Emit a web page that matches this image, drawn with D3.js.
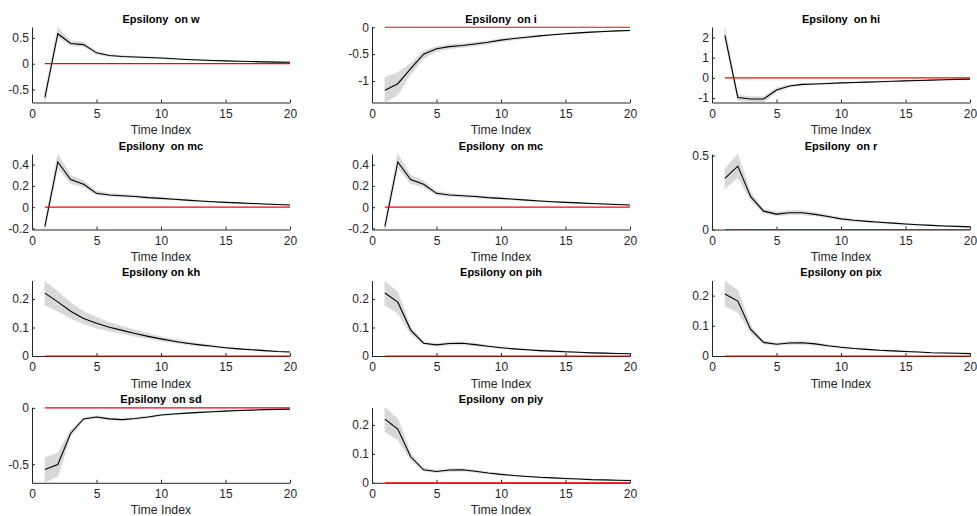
<!DOCTYPE html>
<html>
<head>
<meta charset="utf-8">
<script src="https://cdn.jsdelivr.net/npm/d3@7"></script>
<style>
  html, body { margin: 0; padding: 0; background: #fff; }
  svg { display: block; font-family: "Liberation Sans", Arial, sans-serif; }
  text { white-space: pre; }
</style>
</head>
<body>
<svg id="chart" width="977" height="516"></svg>
<script>
const timeIndex = [1,2,3,4,5,6,7,8,9,10,11,12,13,14,15,16,17,18,19,20];
const xTicks = [0, 5, 10, 15, 20];

const titles = ["Epsilony  on w", "Epsilony  on i", "Epsilony  on hi",
                "Epsilony  on mc", "Epsilony  on mc", "Epsilony  on r",
                "Epsilony on kh", "Epsilony on pih", "Epsilony on pix",
                "Epsilony  on sd", "Epsilony  on piy"];

const wMean = [-0.65, 0.58, 0.39, 0.37, 0.21, 0.16, 0.14, 0.13, 0.12, 0.11, 0.095, 0.082, 0.072, 0.063, 0.055, 0.048, 0.042, 0.036, 0.031, 0.027];
const wLow  = [-0.75, 0.51, 0.35, 0.33, 0.18, 0.14, 0.125, 0.115, 0.107, 0.098, 0.085, 0.073, 0.064, 0.056, 0.049, 0.043, 0.037, 0.032, 0.028, 0.024];
const wHigh = [-0.55, 0.70, 0.44, 0.42, 0.24, 0.18, 0.155, 0.145, 0.133, 0.122, 0.105, 0.091, 0.08, 0.07, 0.061, 0.053, 0.047, 0.04, 0.034, 0.03];

const iMean = [-1.17, -1.05, -0.77, -0.50, -0.40, -0.36, -0.34, -0.31, -0.28, -0.24, -0.21, -0.185, -0.16, -0.14, -0.12, -0.105, -0.09, -0.078, -0.068, -0.06];
const iLow  = [-1.40, -1.26, -0.88, -0.58, -0.45, -0.40, -0.375, -0.345, -0.31, -0.27, -0.235, -0.205, -0.178, -0.155, -0.133, -0.116, -0.1, -0.086, -0.075, -0.066];
const iHigh = [-0.93, -0.84, -0.67, -0.44, -0.36, -0.32, -0.305, -0.275, -0.25, -0.21, -0.185, -0.165, -0.142, -0.125, -0.107, -0.094, -0.08, -0.07, -0.061, -0.054];

const hiMean = [2.10, -0.97, -1.05, -1.05, -0.60, -0.40, -0.32, -0.30, -0.28, -0.25, -0.23, -0.21, -0.19, -0.17, -0.15, -0.13, -0.11, -0.09, -0.075, -0.06];
const hiLow  = [1.85, -1.12, -1.20, -1.20, -0.70, -0.47, -0.37, -0.34, -0.31, -0.28, -0.255, -0.23, -0.21, -0.185, -0.165, -0.145, -0.122, -0.1, -0.083, -0.067];
const hiHigh = [2.50, -0.85, -0.93, -0.93, -0.50, -0.34, -0.28, -0.26, -0.25, -0.22, -0.205, -0.19, -0.17, -0.155, -0.135, -0.115, -0.098, -0.08, -0.067, -0.053];

const mcMean = [-0.18, 0.425, 0.26, 0.215, 0.13, 0.115, 0.108, 0.10, 0.09, 0.083, 0.075, 0.066, 0.058, 0.051, 0.045, 0.04, 0.035, 0.03, 0.025, 0.021];
const mcLow  = [-0.21, 0.37, 0.22, 0.19, 0.112, 0.102, 0.096, 0.089, 0.08, 0.074, 0.067, 0.059, 0.052, 0.046, 0.04, 0.036, 0.031, 0.027, 0.022, 0.019];
const mcHigh = [-0.15, 0.50, 0.30, 0.25, 0.15, 0.13, 0.12, 0.111, 0.1, 0.092, 0.083, 0.073, 0.064, 0.056, 0.05, 0.044, 0.039, 0.033, 0.028, 0.023];

const rMean = [0.346, 0.428, 0.222, 0.124, 0.104, 0.113, 0.113, 0.102, 0.088, 0.072, 0.062, 0.055, 0.049, 0.043, 0.037, 0.032, 0.028, 0.024, 0.021, 0.018];
const rLow  = [0.275, 0.35, 0.195, 0.11, 0.092, 0.1, 0.1, 0.091, 0.079, 0.065, 0.056, 0.05, 0.044, 0.039, 0.033, 0.029, 0.025, 0.022, 0.019, 0.016];
const rHigh = [0.41, 0.51, 0.25, 0.14, 0.118, 0.127, 0.127, 0.114, 0.098, 0.08, 0.069, 0.061, 0.054, 0.047, 0.041, 0.035, 0.031, 0.026, 0.023, 0.02];

const khMean = [0.2207, 0.19, 0.157, 0.132, 0.115, 0.101, 0.09, 0.079, 0.069, 0.06, 0.052, 0.045, 0.039, 0.034, 0.029, 0.025, 0.022, 0.019, 0.016, 0.014];
const khLow  = [0.178, 0.157, 0.132, 0.112, 0.098, 0.087, 0.078, 0.069, 0.061, 0.053, 0.046, 0.04, 0.035, 0.031, 0.026, 0.023, 0.02, 0.017, 0.015, 0.013];
const khHigh = [0.262, 0.226, 0.187, 0.157, 0.136, 0.118, 0.104, 0.091, 0.079, 0.068, 0.059, 0.051, 0.044, 0.038, 0.032, 0.028, 0.024, 0.021, 0.018, 0.015];

const pihMean = [0.221, 0.189, 0.091, 0.045, 0.039, 0.044, 0.045, 0.040, 0.034, 0.029, 0.025, 0.022, 0.019, 0.017, 0.015, 0.013, 0.011, 0.010, 0.009, 0.008];
const pihLow  = [0.178, 0.15, 0.078, 0.04, 0.035, 0.039, 0.04, 0.036, 0.031, 0.026, 0.023, 0.02, 0.017, 0.015, 0.013, 0.012, 0.01, 0.009, 0.008, 0.007];
const pihHigh = [0.262, 0.225, 0.103, 0.05, 0.043, 0.049, 0.05, 0.044, 0.037, 0.032, 0.027, 0.024, 0.021, 0.019, 0.017, 0.014, 0.012, 0.011, 0.01, 0.009];

const pixMean = [0.205, 0.182, 0.088, 0.045, 0.039, 0.043, 0.044, 0.040, 0.034, 0.029, 0.025, 0.022, 0.019, 0.017, 0.015, 0.013, 0.011, 0.010, 0.009, 0.008];
const pixLow  = [0.165, 0.145, 0.076, 0.04, 0.035, 0.038, 0.039, 0.036, 0.031, 0.026, 0.023, 0.02, 0.017, 0.015, 0.013, 0.012, 0.01, 0.009, 0.008, 0.007];
const pixHigh = [0.248, 0.218, 0.1, 0.05, 0.043, 0.048, 0.049, 0.044, 0.037, 0.032, 0.027, 0.024, 0.021, 0.019, 0.017, 0.014, 0.012, 0.011, 0.01, 0.009];

const sdMean = [-0.546, -0.503, -0.225, -0.098, -0.081, -0.098, -0.104, -0.095, -0.081, -0.064, -0.055, -0.047, -0.04, -0.034, -0.029, -0.024, -0.02, -0.016, -0.013, -0.011];
const sdLow  = [-0.66, -0.61, -0.25, -0.11, -0.091, -0.108, -0.114, -0.104, -0.089, -0.071, -0.061, -0.052, -0.044, -0.038, -0.032, -0.027, -0.022, -0.018, -0.015, -0.013];
const sdHigh = [-0.44, -0.40, -0.195, -0.086, -0.071, -0.088, -0.094, -0.086, -0.073, -0.057, -0.049, -0.042, -0.036, -0.03, -0.026, -0.021, -0.018, -0.014, -0.011, -0.009];

const piyMean = [0.22, 0.186, 0.09, 0.045, 0.039, 0.044, 0.045, 0.040, 0.034, 0.029, 0.025, 0.022, 0.019, 0.017, 0.015, 0.013, 0.011, 0.010, 0.009, 0.008];
const piyLow  = [0.176, 0.148, 0.078, 0.04, 0.035, 0.039, 0.04, 0.036, 0.031, 0.026, 0.023, 0.02, 0.017, 0.015, 0.013, 0.012, 0.01, 0.009, 0.008, 0.007];
const piyHigh = [0.26, 0.222, 0.102, 0.05, 0.043, 0.049, 0.05, 0.044, 0.037, 0.032, 0.027, 0.024, 0.021, 0.019, 0.017, 0.014, 0.012, 0.011, 0.01, 0.009];

const yLimits = [[-0.75, 0.71], [-1.40, 0.005], [-1.22, 2.52],
                 [-0.21, 0.5], [-0.21, 0.5], [0, 0.51],
                 [0, 0.265], [0, 0.265], [0, 0.25],
                 [-0.665, 0.005], [0, 0.261]];
const yTicks = [[-0.5, 0, 0.5], [-1, -0.5, 0], [-1, 0, 1, 2],
                [-0.2, 0, 0.2, 0.4], [-0.2, 0, 0.2, 0.4], [0, 0.5],
                [0, 0.1, 0.2], [0, 0.1, 0.2], [0, 0.1, 0.2],
                [-0.5, 0], [0, 0.1, 0.2]];

const means = [wMean, iMean, hiMean, mcMean, mcMean, rMean, khMean, pihMean, pixMean, sdMean, piyMean];
const lows  = [wLow, iLow, hiLow, mcLow, mcLow, rLow, khLow, pihLow, pixLow, sdLow, piyLow];
const highs = [wHigh, iHigh, hiHigh, mcHigh, mcHigh, rHigh, khHigh, pihHigh, pixHigh, sdHigh, piyHigh];

// layout
const colX = [32, 372, 712];
const rowY = [27, 154, 280.5, 407.3];
const pw = 258, ph = 75.5;
const textColor = "#262626";

const svg = d3.select("#chart");

const fmt = v => (v === 0 ? "0" : String(v));

titles.forEach((title, k) => {
  const col = k % 3, row = Math.floor(k / 3);
  const g = svg.append("g").attr("transform", `translate(${colX[col]},${rowY[row]})`);
  const x = d3.scaleLinear().domain([0, 20]).range([0, pw]);
  const y = d3.scaleLinear().domain(yLimits[k]).range([ph, 0]);

  const clipId = "clip" + k;
  g.append("clipPath").attr("id", clipId).append("rect")
    .attr("x", 0).attr("y", 0).attr("width", pw).attr("height", ph);
  const plot = g.append("g").attr("clip-path", `url(#${clipId})`);

  const rows = timeIndex.map((t, i) => ({ t, m: means[k][i], lo: lows[k][i], hi: highs[k][i] }));

  plot.append("path").datum(rows)
    .attr("d", d3.area().x(d => x(d.t)).y0(d => y(d.lo)).y1(d => y(d.hi)))
    .attr("fill", "#d8d8d8").attr("stroke", "#e0e0e0").attr("stroke-width", 0.8);

  plot.append("path").datum(rows)
    .attr("d", d3.line().x(d => x(d.t)).y(d => y(d.m)))
    .attr("fill", "none").attr("stroke", "#000").attr("stroke-width", 1.1);

  // axes
  const xAxis = d3.axisBottom(x).tickValues(xTicks).tickSizeInner(-3).tickSizeOuter(0).tickPadding(3).tickFormat(fmt);
  const yAxis = d3.axisLeft(y).tickValues(yTicks[k]).tickSizeInner(-3).tickSizeOuter(0).tickPadding(3).tickFormat(fmt);

  const gx = g.append("g").attr("transform", `translate(0,${ph})`).call(xAxis);
  const gy = g.append("g").call(yAxis);
  [gx, gy].forEach(a => {
    a.select(".domain").attr("stroke", textColor).attr("stroke-width", 1);
    a.selectAll(".tick line").attr("stroke", textColor);
    a.selectAll("text").attr("fill", textColor).attr("font-size", 12)
      .attr("font-family", "'Liberation Sans', Arial, sans-serif");
  });
  gx.selectAll(".tick text").attr("dy", "0.71em").attr("y", 6.5);

  // zero line (drawn on top, not clipped, like the reference)
  g.append("path").datum([timeIndex[0], timeIndex[timeIndex.length - 1]])
    .attr("d", d3.line().x(d => x(d)).y(() => y(0)))
    .attr("fill", "none").attr("stroke", "#ff0000").attr("stroke-width", 1.2);

  // title
  g.append("text").attr("x", pw / 2).attr("y", -4.5)
    .attr("text-anchor", "middle").attr("font-size", 11).attr("font-weight", "bold")
    .attr("fill", "#000").text(title);

  // x label
  g.append("text").attr("x", pw / 2).attr("y", ph + 31.5)
    .attr("text-anchor", "middle").attr("font-size", 12.3)
    .attr("fill", textColor).text("Time Index");
});
</script>
</body>
</html>
